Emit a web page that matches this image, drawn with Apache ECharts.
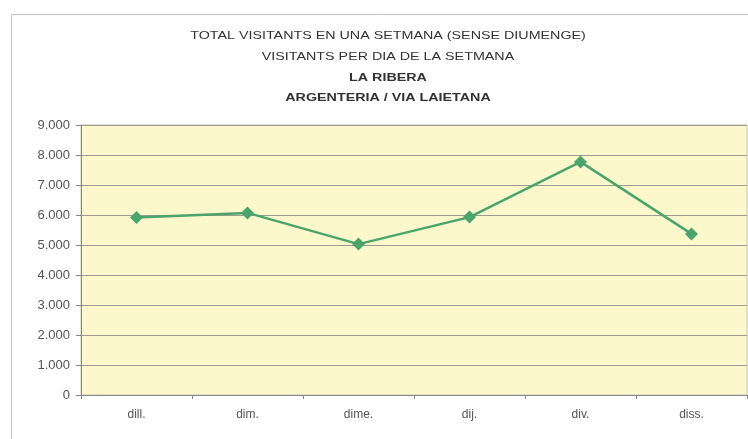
<!DOCTYPE html>
<html>
<head>
<meta charset="utf-8">
<script src="https://cdn.jsdelivr.net/npm/echarts@6/dist/echarts.min.js"></script>
<style>
  html, body { margin: 0; padding: 0; background: #ffffff; }
  #chart { width: 748px; height: 439px; }
</style>
</head>
<body>
<div id="chart"></div>
<script>
// dies de la setmana i visitants
var days = ["dill.", "dim.", "dime.", "dij.", "div.", "diss."];
var visitants = [5920, 6070, 5030, 5930, 7770, 5370];
var titleLines = [
  "TOTAL VISITANTS EN UNA SETMANA (SENSE DIUMENGE)",
  "VISITANTS PER DIA DE LA SETMANA",
  "LA RIBERA",
  "ARGENTERIA / VIA LAIETANA"
];
var titleBold = [false, false, true, true];
var titleY = [36, 57, 78, 98];

var chart = echarts.init(document.getElementById("chart"));

function fmt(v) {
  // punt com a separador de milers
  return v === 0 ? "0" : (v / 1000).toFixed(3);
}

var graphics = [
  {
    type: "rect",
    shape: { x: 11.5, y: 14.5, width: 760, height: 440 },
    style: { fill: "none", stroke: "#c4c4cc", lineWidth: 1 }
  }
];
// el text del títol és més ample que alt a l'original
titleLines.forEach(function (t, i) {
  graphics.push({
    type: "text",
    x: 388, y: titleY[i],
    scaleX: 1.3,
    style: {
      text: t,
      textAlign: "center",
      textVerticalAlign: "middle",
      font: (titleBold[i] ? "bold " : "") + "11px 'Liberation Sans', Arial",
      fill: "#333333"
    }
  });
});

chart.setOption({
  animation: false,
  backgroundColor: "#ffffff",
  graphic: graphics,
  grid: {
    left: 81, right: 1, top: 125, bottom: 44,
    show: true,
    backgroundColor: "#fdf8cc",
    borderColor: "#c8c4b0",
    borderWidth: 1
  },
  xAxis: {
    type: "category",
    data: days,
    boundaryGap: true,
    axisLine: { show: true, lineStyle: { color: "#888888" } },
    axisTick: { show: true, alignWithLabel: false, length: 4, lineStyle: { color: "#888888" } },
    axisLabel: { color: "#555555", fontSize: 12, fontFamily: "Liberation Sans", margin: 14 }
  },
  yAxis: {
    type: "value",
    min: 0, max: 9000, interval: 1000,
    axisLine: { show: true, lineStyle: { color: "#888888" } },
    axisTick: { show: true, length: 5, lineStyle: { color: "#888888" } },
    axisLabel: { color: "#555555", fontSize: 13, fontFamily: "Liberation Sans", margin: 11, formatter: fmt },
    splitLine: { show: true, lineStyle: { color: "#9e9a90", width: 1 } }
  },
  series: [
    {
      type: "line",
      data: visitants,
      symbol: "diamond",
      symbolSize: 13,
      lineStyle: { color: "#4aa46c", width: 2.5 },
      itemStyle: { color: "#4aa46c" }
    }
  ]
});
</script>
</body>
</html>
